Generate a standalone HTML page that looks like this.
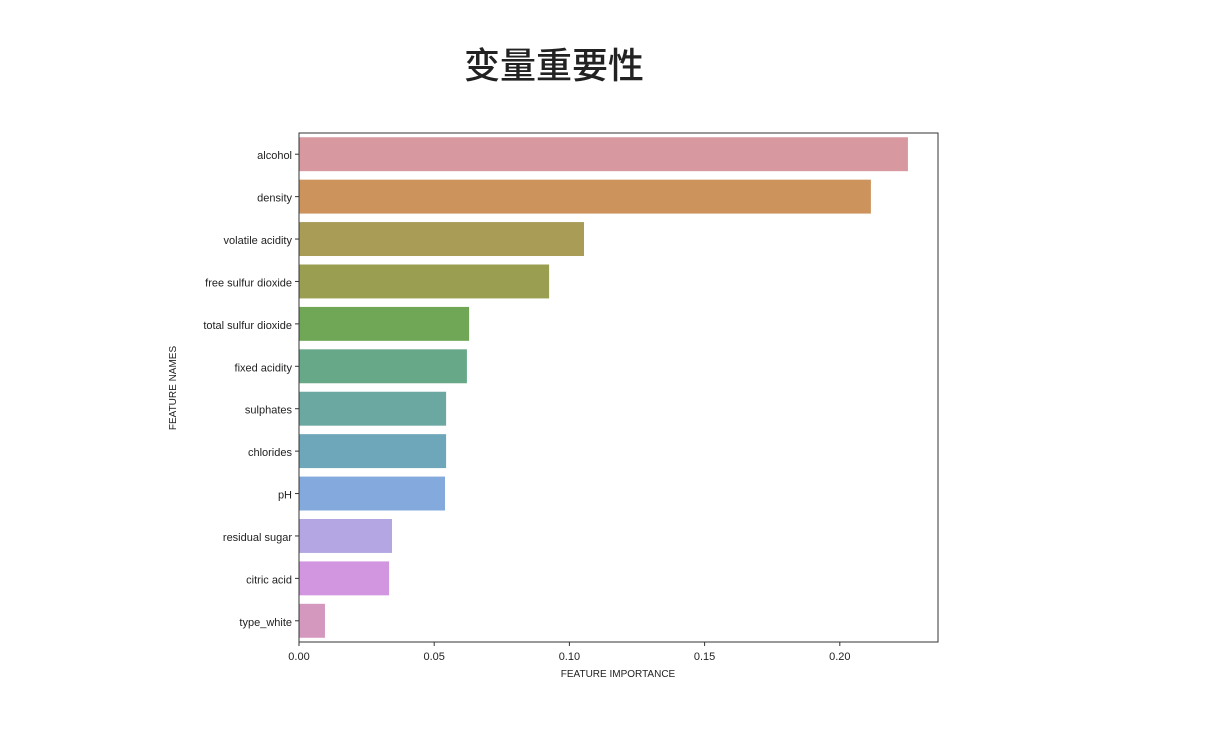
<!DOCTYPE html>
<html><head><meta charset="utf-8"><style>
body{margin:0;background:#fff;width:1228px;height:745px;overflow:hidden}
text{font-family:"Liberation Sans","DejaVu Sans",sans-serif}
</style></head><body>
<svg id="chart" width="1228" height="745">
<text x="554" y="78" text-anchor="middle" font-size="36" font-weight="500" fill="#222" style="font-family:'Noto Sans CJK SC',sans-serif">变量重要性</text>
<g id="bars"></g>
<rect x="299" y="133" width="639" height="509" fill="none" stroke="#333" stroke-width="1"/>
<g id="axes"></g>
<text x="618" y="677" text-anchor="middle" font-size="10" fill="#222">FEATURE IMPORTANCE</text>
<text transform="translate(176,388) rotate(-90)" text-anchor="middle" font-size="10" fill="#222">FEATURE NAMES</text>
</svg>
<script>
const categories=["alcohol","density","volatile acidity","free sulfur dioxide","total sulfur dioxide","fixed acidity","sulphates","chlorides","pH","residual sugar","citric acid","type_white"];
const values=[0.2252,0.2115,0.1054,0.0925,0.0629,0.0621,0.0544,0.0544,0.0540,0.0344,0.0333,0.0096];
const colors=["#d8989f","#cd935d","#a89c57","#999e51","#6fa757","#67a889","#6ba8a2","#6da7b9","#84a9dd","#b3a6e3","#d295df","#d497bd"];
const xTicks=[0,0.05,0.10,0.15,0.20];
const xTickLabels=["0.00","0.05","0.10","0.15","0.20"];
const NS="http://www.w3.org/2000/svg";
const L=299,T=133,H=509,W=639,xMax=W/2704;
const x=v=>L+v/xMax*W;
const band=H/categories.length;
const bars=document.getElementById('bars'),axes=document.getElementById('axes');
function mk(tag,attrs,parent){const e=document.createElementNS(NS,tag);for(const k in attrs)e.setAttribute(k,attrs[k]);parent.appendChild(e);return e;}
categories.forEach((c,i)=>{
  const cy=T+band*(i+0.5);
  const r=mk('rect',{x:L,y:cy-band*0.4,width:x(values[i])-L,height:band*0.8,fill:colors[i]},bars);
  
  
  mk('line',{x1:L-4,x2:L,y1:cy,y2:cy,stroke:'#333'},axes);
  const t=mk('text',{x:L-7,y:cy+5,'text-anchor':'end','font-size':11,fill:'#222'},axes);
  t.textContent=c;
  
  
});
xTicks.forEach((v,i)=>{
  const px=x(v);
  mk('line',{x1:px,x2:px,y1:T+H,y2:T+H+4,stroke:'#333'},axes);
  const t=mk('text',{x:px,y:T+H+18,'text-anchor':'middle','font-size':11,fill:'#222'},axes);
  t.textContent=xTickLabels[i];
  
  
});
</script>
</body></html>
